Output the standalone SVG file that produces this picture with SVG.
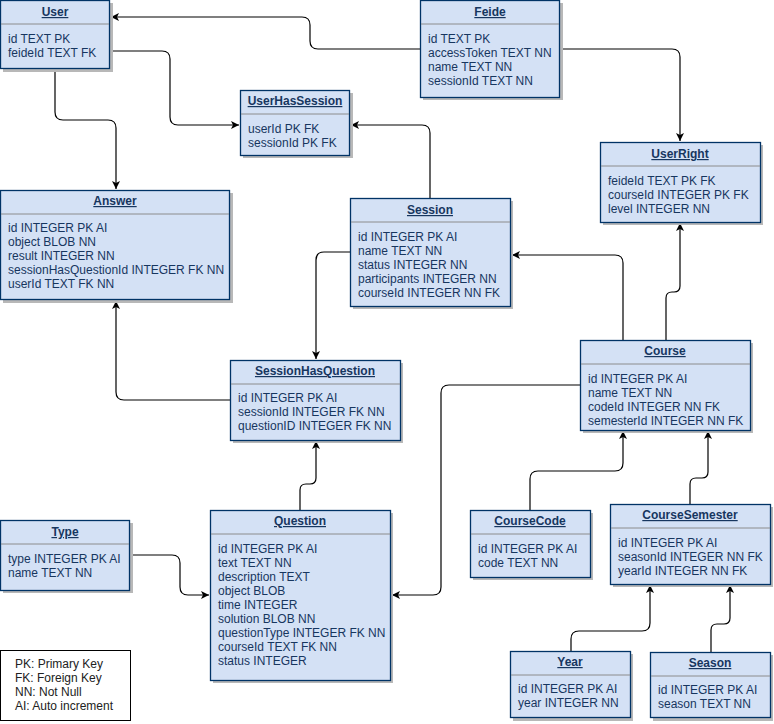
<svg xmlns="http://www.w3.org/2000/svg" width="774" height="724" viewBox="0 0 774 724">
<style>
.sh{fill:#b8b8b8}
.bx{fill:#d4e1f5;stroke:#003366;stroke-width:1.3}
.dv{stroke:#8c8c8c;stroke-width:1}
.t{font-family:"Liberation Sans",Arial,sans-serif;font-size:12px;fill:#17365f}
.h{font-weight:bold;text-decoration:underline;text-anchor:middle}
.c{fill:none;stroke:#000;stroke-width:1.2;marker-end:url(#ar)}
.lg{font-family:"Liberation Sans",Arial,sans-serif;font-size:12px;fill:#222}
</style>
<defs>
<marker id="ar" markerUnits="userSpaceOnUse" markerWidth="10" markerHeight="10" refX="9" refY="5" orient="auto">
<path d="M1,1 L9,5 L1,9 L3,5 Z" fill="#000"/>
</marker>
</defs>
<rect width="774" height="724" fill="#fff"/>

<g id="connectors">
<path class="c" d="M420,49 L318,49 Q310,49 310,41 L310,25 Q310,17 302,17 L111,17"/>
<path class="c" d="M560,49 L672,49 Q680,49 680,57 L680,141"/>
<path class="c" d="M110,51 L162,51 Q170,51 170,59 L170,117 Q170,125 178,125 L239,125"/>
<path class="c" d="M55,69 L55,112 Q55,120 63,120 L108,120 Q116,120 116,128 L116,189"/>
<path class="c" d="M430,198 L430,133 Q430,125 422,125 L351,125"/>
<path class="c" d="M623,340 L623,263 Q623,255 615,255 L512,255"/>
<path class="c" d="M666,340 L666,298 Q666,292 672,292 L674,292 Q680,292 680,286 L680,223"/>
<path class="c" d="M350,252 L324,252 Q316,252 316,260 L316,359"/>
<path class="c" d="M230,400 L124,400 Q116,400 116,392 L116,301"/>
<path class="c" d="M300,510 L300,490 Q300,484 306,484 L310,484 Q316,484 316,478 L316,441"/>
<path class="c" d="M580,385 L449,385 Q441,385 441,393 L441,587 Q441,595 433,595 L392,595"/>
<path class="c" d="M130,555 L172,555 Q180,555 180,563 L180,587 Q180,595 188,595 L209,595"/>
<path class="c" d="M530,510 L530,479 Q530,471 538,471 L615,471 Q623,471 623,463 L623,431"/>
<path class="c" d="M690,504 L690,484 Q690,478 696,478 L702,478 Q708,478 708,472 L708,431"/>
<path class="c" d="M571,651 L571,639 Q571,631 579,631 L642,631 Q650,631 650,623 L650,585"/>
<path class="c" d="M711,652 L711,630 Q711,624 717,624 L724,624 Q730,624 730,618 L730,585"/>
</g>

<g id="User">
<rect class="sh" x="3" y="3" width="110" height="69"/>
<rect class="bx" x="0.5" y="0.5" width="109" height="68"/>
<line class="dv" x1="1" y1="24" x2="109" y2="24"/>
<text class="t h" x="55" y="16">User</text>
<text class="t" x="8" y="43">id TEXT PK</text>
<text class="t" x="8" y="57">feideId TEXT FK</text>
</g>

<g id="Feide">
<rect class="sh" x="423" y="3" width="140" height="97"/>
<rect class="bx" x="420.5" y="0.5" width="139" height="97"/>
<line class="dv" x1="421" y1="24" x2="559" y2="24"/>
<text class="t h" x="490" y="16">Feide</text>
<text class="t" x="428" y="43">id TEXT PK</text>
<text class="t" x="428" y="57">accessToken TEXT NN</text>
<text class="t" x="428" y="71">name TEXT NN</text>
<text class="t" x="428" y="85">sessionId TEXT NN</text>
</g>

<g id="UserHasSession">
<rect class="sh" x="243" y="93" width="110" height="65"/>
<rect class="bx" x="240.5" y="90.5" width="109" height="65"/>
<line class="dv" x1="241" y1="114" x2="349" y2="114"/>
<text class="t h" x="295" y="105">UserHasSession</text>
<text class="t" x="248" y="133">userId PK FK</text>
<text class="t" x="248" y="147">sessionId PK FK</text>
</g>

<g id="UserRight">
<rect class="sh" x="603" y="145" width="160" height="80"/>
<rect class="bx" x="600.5" y="142.5" width="160" height="80"/>
<line class="dv" x1="601" y1="166" x2="760" y2="166"/>
<text class="t h" x="680" y="158">UserRight</text>
<text class="t" x="608" y="185">feideId TEXT PK FK</text>
<text class="t" x="608" y="199">courseId INTEGER PK FK</text>
<text class="t" x="608" y="213">level INTEGER NN</text>
</g>

<g id="Answer">
<rect class="sh" x="3" y="193" width="230" height="110"/>
<rect class="bx" x="0.5" y="190.5" width="229" height="109"/>
<line class="dv" x1="1" y1="214" x2="229" y2="214"/>
<text class="t h" x="115" y="205">Answer</text>
<text class="t" x="8" y="232">id INTEGER PK AI</text>
<text class="t" x="8" y="246">object BLOB NN</text>
<text class="t" x="8" y="260">result INTEGER NN</text>
<text class="t" x="8" y="274">sessionHasQuestionId INTEGER FK NN</text>
<text class="t" x="8" y="288">userId TEXT FK NN</text>
</g>

<g id="Session">
<rect class="sh" x="353" y="201" width="160" height="108"/>
<rect class="bx" x="350.5" y="198.5" width="160" height="108"/>
<line class="dv" x1="351" y1="222" x2="510" y2="222"/>
<text class="t h" x="430" y="214">Session</text>
<text class="t" x="358" y="241">id INTEGER PK AI</text>
<text class="t" x="358" y="255">name TEXT NN</text>
<text class="t" x="358" y="269">status INTEGER NN</text>
<text class="t" x="358" y="283">participants INTEGER NN</text>
<text class="t" x="358" y="297">courseId INTEGER NN FK</text>
</g>

<g id="SessionHasQuestion">
<rect class="sh" x="233" y="363" width="170" height="80"/>
<rect class="bx" x="230.5" y="360.5" width="170" height="80"/>
<line class="dv" x1="231" y1="384" x2="400" y2="384"/>
<text class="t h" x="315" y="375">SessionHasQuestion</text>
<text class="t" x="238" y="402">id INTEGER PK AI</text>
<text class="t" x="238" y="416">sessionId INTEGER FK NN</text>
<text class="t" x="238" y="430">questionID INTEGER FK NN</text>
</g>

<g id="Course">
<rect class="sh" x="583" y="343" width="170" height="90"/>
<rect class="bx" x="580.5" y="340.5" width="170" height="90"/>
<line class="dv" x1="581" y1="364" x2="750" y2="364"/>
<text class="t h" x="665" y="355">Course</text>
<text class="t" x="588" y="383">id INTEGER PK AI</text>
<text class="t" x="588" y="397">name TEXT NN</text>
<text class="t" x="588" y="411">codeId INTEGER NN FK</text>
<text class="t" x="588" y="425">semesterId INTEGER NN FK</text>
</g>

<g id="Type">
<rect class="sh" x="3" y="523" width="130" height="70"/>
<rect class="bx" x="0.5" y="520.5" width="129" height="70"/>
<line class="dv" x1="1" y1="544" x2="129" y2="544"/>
<text class="t h" x="65" y="536">Type</text>
<text class="t" x="8" y="563">type INTEGER PK AI</text>
<text class="t" x="8" y="577">name TEXT NN</text>
</g>

<g id="Question">
<rect class="sh" x="213" y="513" width="180" height="170"/>
<rect class="bx" x="210.5" y="510.5" width="180" height="170"/>
<line class="dv" x1="211" y1="534" x2="390" y2="534"/>
<text class="t h" x="300" y="525">Question</text>
<text class="t" x="218" y="553">id INTEGER PK AI</text>
<text class="t" x="218" y="567">text TEXT NN</text>
<text class="t" x="218" y="581">description TEXT</text>
<text class="t" x="218" y="595">object BLOB</text>
<text class="t" x="218" y="609">time INTEGER</text>
<text class="t" x="218" y="623">solution BLOB NN</text>
<text class="t" x="218" y="637">questionType INTEGER FK NN</text>
<text class="t" x="218" y="651">courseId TEXT FK NN</text>
<text class="t" x="218" y="665">status INTEGER</text>
</g>

<g id="CourseCode">
<rect class="sh" x="473" y="513" width="120" height="67"/>
<rect class="bx" x="470.5" y="510.5" width="120" height="67"/>
<line class="dv" x1="471" y1="534" x2="590" y2="534"/>
<text class="t h" x="530" y="525">CourseCode</text>
<text class="t" x="478" y="553">id INTEGER PK AI</text>
<text class="t" x="478" y="567">code TEXT NN</text>
</g>

<g id="CourseSemester">
<rect class="sh" x="613" y="507" width="160" height="80"/>
<rect class="bx" x="610.5" y="504.5" width="160" height="80"/>
<line class="dv" x1="611" y1="528" x2="770" y2="528"/>
<text class="t h" x="690" y="519">CourseSemester</text>
<text class="t" x="618" y="547">id INTEGER PK AI</text>
<text class="t" x="618" y="561">seasonId INTEGER NN FK</text>
<text class="t" x="618" y="575">yearId INTEGER NN FK</text>
</g>

<g id="Year">
<rect class="sh" x="513" y="654" width="120" height="67"/>
<rect class="bx" x="510.5" y="651.5" width="120" height="66"/>
<line class="dv" x1="511" y1="675" x2="630" y2="675"/>
<text class="t h" x="570" y="666">Year</text>
<text class="t" x="518" y="693">id INTEGER PK AI</text>
<text class="t" x="518" y="707">year INTEGER NN</text>
</g>

<g id="Season">
<rect class="sh" x="653" y="655" width="120" height="66"/>
<rect class="bx" x="650.5" y="652.5" width="120" height="65"/>
<line class="dv" x1="651" y1="676" x2="770" y2="676"/>
<text class="t h" x="710" y="667">Season</text>
<text class="t" x="658" y="694">id INTEGER PK AI</text>
<text class="t" x="658" y="708">season TEXT NN</text>
</g>

<g id="Legend">
<rect x="0.5" y="650.5" width="130" height="70" fill="#fff" stroke="#000" stroke-width="1"/>
<text class="lg" x="15" y="668">PK: Primary Key</text>
<text class="lg" x="15" y="682">FK: Foreign Key</text>
<text class="lg" x="15" y="696">NN: Not Null</text>
<text class="lg" x="15" y="710">AI: Auto increment</text>
</g>
</svg>
